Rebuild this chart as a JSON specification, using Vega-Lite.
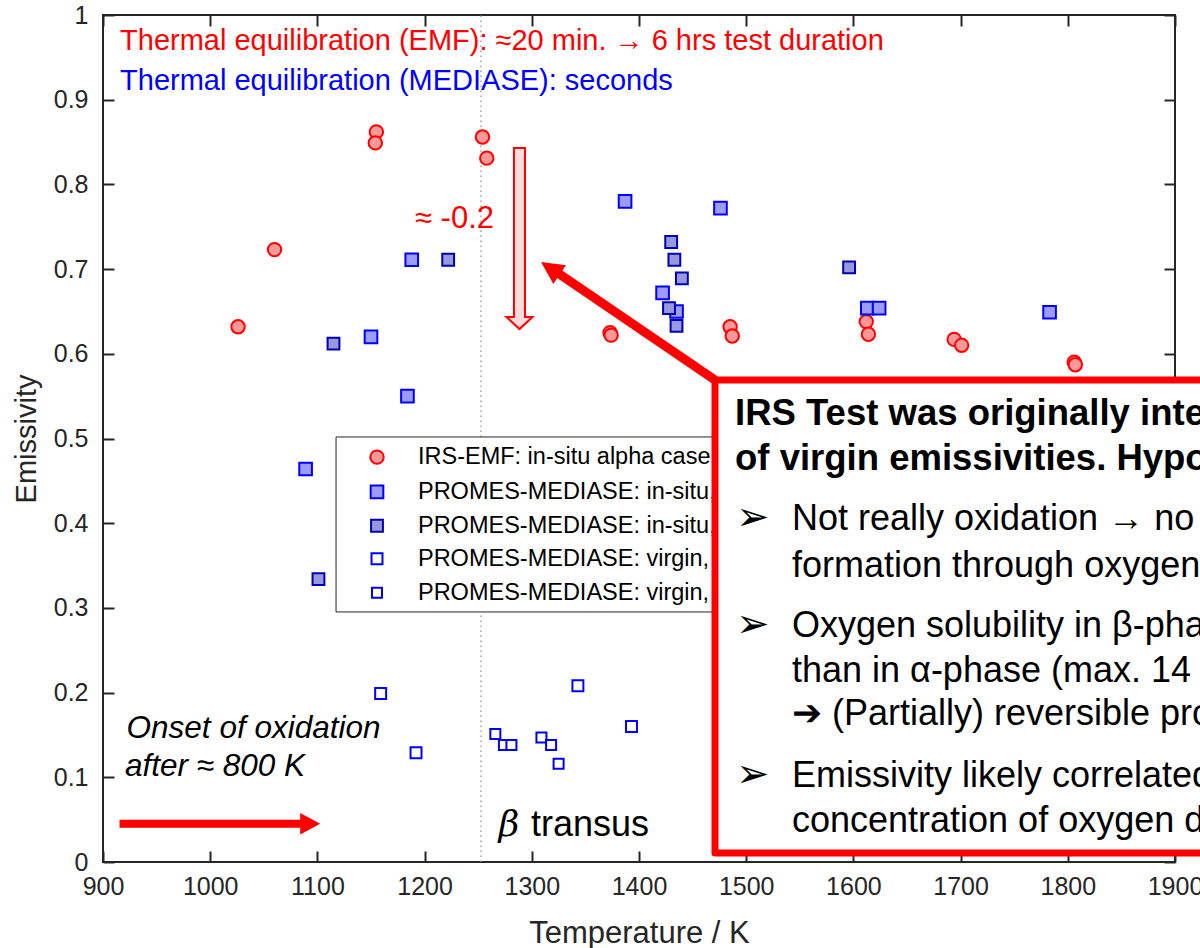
{
  "$schema": "https://vega.github.io/schema/vega-lite/v6.json",
  "autosize": {"type": "none"},
  "padding": {"left": 103, "top": 15, "right": 25, "bottom": 86},
  "width": 1072,
  "height": 847,
  "background": "white",
  "config": {
    "view": {"stroke": "#262626", "strokeWidth": 2},
    "font": "Liberation Sans",
    "axis": {"grid": false, "domain": false, "labelFlush": false, "labelOverlap": false, "tickColor": "#262626", "tickWidth": 2, "tickSize": -11, "labelFont": "Liberation Sans", "labelColor": "#262626", "labelFontSize": 25, "titleFont": "Liberation Sans", "titleFontWeight": "normal", "titleColor": "#262626", "titleFontSize": 29}
  },
  "resolve": {"axis": {"x": "independent", "y": "independent"}},
  "encoding": {
    "x": {"field": "T", "type": "quantitative", "scale": {"domain": [900, 1900], "nice": false, "zero": false}, "axis": null},
    "y": {"field": "E", "type": "quantitative", "scale": {"domain": [0, 1], "nice": false}, "axis": null}
  },
  "layer": [
    {
      "data": {"values": [{"T": 1252.6, "E": 0, "E2": 1}]},
      "mark": {"type": "rule", "color": "#8c8c8c", "strokeWidth": 1.2, "strokeDash": [1.5, 3.5]},
      "encoding": {
        "x": {"field": "T", "type": "quantitative", "axis": {"orient": "top", "values": [900, 1000, 1100, 1200, 1300, 1400, 1500, 1600, 1700, 1800, 1900], "labels": false, "title": null}},
        "y": {"field": "E", "type": "quantitative", "axis": {"orient": "right", "values": [0, 0.1, 0.2, 0.3, 0.4, 0.5, 0.6, 0.7, 0.8, 0.9, 1], "labels": false, "title": null}},
        "y2": {"field": "E2"}
      }
    },
    {
      "data": {"values": [
        {"T": 1026, "E": 0.632, "series": "emf"},
        {"T": 1060, "E": 0.723, "series": "emf"},
        {"T": 1155, "E": 0.862, "series": "emf"},
        {"T": 1154, "E": 0.849, "series": "emf"},
        {"T": 1254, "E": 0.856, "series": "emf"},
        {"T": 1258, "E": 0.831, "series": "emf"},
        {"T": 1373, "E": 0.625, "series": "emf"},
        {"T": 1374, "E": 0.622, "series": "emf"},
        {"T": 1485, "E": 0.632, "series": "emf"},
        {"T": 1487, "E": 0.621, "series": "emf"},
        {"T": 1612, "E": 0.638, "series": "emf"},
        {"T": 1614, "E": 0.623, "series": "emf"},
        {"T": 1694, "E": 0.617, "series": "emf"},
        {"T": 1701, "E": 0.610, "series": "emf"},
        {"T": 1806, "E": 0.590, "series": "emf"},
        {"T": 1807, "E": 0.587, "series": "emf"},
        {"T": 1150, "E": 0.620, "series": "in1"},
        {"T": 1184, "E": 0.550, "series": "in1"},
        {"T": 1089, "E": 0.464, "series": "in1"},
        {"T": 1188, "E": 0.711, "series": "in1"},
        {"T": 1387, "E": 0.780, "series": "in1"},
        {"T": 1476, "E": 0.772, "series": "in1"},
        {"T": 1422, "E": 0.672, "series": "in1"},
        {"T": 1435, "E": 0.650, "series": "in1"},
        {"T": 1613, "E": 0.654, "series": "in1"},
        {"T": 1624, "E": 0.654, "series": "in1"},
        {"T": 1783, "E": 0.649, "series": "in1"},
        {"T": 1115, "E": 0.612, "series": "in2"},
        {"T": 1101, "E": 0.334, "series": "in2"},
        {"T": 1222, "E": 0.711, "series": "in2"},
        {"T": 1430, "E": 0.732, "series": "in2"},
        {"T": 1433, "E": 0.711, "series": "in2"},
        {"T": 1440, "E": 0.689, "series": "in2"},
        {"T": 1428, "E": 0.654, "series": "in2"},
        {"T": 1435, "E": 0.633, "series": "in2"},
        {"T": 1596, "E": 0.702, "series": "in2"},
        {"T": 1159, "E": 0.199, "series": "v1"},
        {"T": 1192, "E": 0.129, "series": "v1"},
        {"T": 1343, "E": 0.208, "series": "v1"},
        {"T": 1393, "E": 0.160, "series": "v1"},
        {"T": 1266, "E": 0.151, "series": "v2"},
        {"T": 1274, "E": 0.138, "series": "v2"},
        {"T": 1281, "E": 0.138, "series": "v2"},
        {"T": 1309, "E": 0.147, "series": "v2"},
        {"T": 1318, "E": 0.138, "series": "v2"},
        {"T": 1325, "E": 0.116, "series": "v2"}
      ]},
      "mark": {"type": "point", "filled": true, "opacity": 1, "strokeWidth": 2, "size": 110},
      "encoding": {
        "x": {"field": "T", "type": "quantitative", "axis": {"orient": "bottom", "values": [900, 1000, 1100, 1200, 1300, 1400, 1500, 1600, 1700, 1800, 1900], "format": "d", "labelPadding": 23, "title": "Temperature / K", "titlePadding": 19, "titleFontSize": 31}},
        "y": {"field": "E", "type": "quantitative", "axis": {"orient": "left", "values": [0, 0.1, 0.2, 0.3, 0.4, 0.5, 0.6, 0.7, 0.8, 0.9, 1], "format": "~g", "labelPadding": 26, "title": "Emissivity", "titlePadding": 12}},
        "shape": {"field": "series", "type": "nominal", "scale": {"domain": ["emf", "in1", "in2", "v1", "v2"], "range": ["circle", "square", "square", "square", "square"]}, "legend": null},
        "fill": {"field": "series", "type": "nominal", "scale": {"domain": ["emf", "in1", "in2", "v1", "v2"], "range": ["#ff9999", "#9c9cff", "#9898dd", "#ffffff", "#ffffff"]}, "legend": null},
        "stroke": {"field": "series", "type": "nominal", "scale": {"domain": ["emf", "in1", "in2", "v1", "v2"], "range": ["#ff0000", "#0000ff", "#0000b4", "#0000ff", "#0000ee"]}, "legend": null},
        "size": {"field": "series", "type": "nominal", "scale": {"domain": ["emf", "in1", "in2", "v1", "v2"], "range": [180, 100, 100, 100, 100]}, "legend": null}
      }
    },
    {
      "data": {"values": [{"T": 1117.4, "T2": 1750, "E": 0.2952, "E2": 0.5018}]},
      "mark": {"type": "rect", "fill": "white", "stroke": "#262626", "strokeWidth": 1},
      "encoding": {"x2": {"field": "T2"}, "y2": {"field": "E2"}}
    },
    {
      "data": {"values": [
        {"T": 1155.6, "E": 0.478, "series": "emf"},
        {"T": 1155.6, "E": 0.437, "series": "in1"},
        {"T": 1155.6, "E": 0.397, "series": "in2"},
        {"T": 1155.6, "E": 0.358, "series": "v1"},
        {"T": 1155.6, "E": 0.318, "series": "v2"}
      ]},
      "mark": {"type": "point", "filled": true, "opacity": 1, "strokeWidth": 2},
      "encoding": {
        "shape": {"field": "series", "type": "nominal", "scale": {"domain": ["emf", "in1", "in2", "v1", "v2"], "range": ["circle", "square", "square", "square", "square"]}, "legend": null},
        "fill": {"field": "series", "type": "nominal", "scale": {"domain": ["emf", "in1", "in2", "v1", "v2"], "range": ["#ff9999", "#9c9cff", "#9898dd", "#ffffff", "#ffffff"]}, "legend": null},
        "stroke": {"field": "series", "type": "nominal", "scale": {"domain": ["emf", "in1", "in2", "v1", "v2"], "range": ["#ff0000", "#0000ff", "#0000b4", "#0000ff", "#0000ee"]}, "legend": null},
        "size": {"field": "series", "type": "nominal", "scale": {"domain": ["emf", "in1", "in2", "v1", "v2"], "range": [180, 100, 100, 100, 100]}, "legend": null}
      }
    },
    {
      "data": {"values": [
        {"T": 1193.8, "E": 0.478, "label": "IRS-EMF: in-situ alpha case formation"},
        {"T": 1193.8, "E": 0.437, "label": "PROMES-MEDIASE: in-situ, sample 1"},
        {"T": 1193.8, "E": 0.397, "label": "PROMES-MEDIASE: in-situ, sample 2"},
        {"T": 1193.8, "E": 0.358, "label": "PROMES-MEDIASE: virgin, sample 1"},
        {"T": 1193.8, "E": 0.318, "label": "PROMES-MEDIASE: virgin, sample 2"}
      ]},
      "mark": {"type": "text", "align": "left", "baseline": "middle", "fontSize": 23.5, "color": "#000000", "font": "Liberation Sans"},
      "encoding": {"text": {"field": "label"}}
    },
    {
      "data": {"values": [{"T": 915.9, "E": 0.9587, "label": "Thermal equilibration (EMF): ≈20 min. → 6 hrs test duration"}]},
      "mark": {"type": "text", "align": "left", "baseline": "alphabetic", "fontSize": 29, "color": "#ff0000", "font": "Liberation Sans"},
      "encoding": {"text": {"field": "label"}}
    },
    {
      "data": {"values": [{"T": 915.9, "E": 0.9115, "label": "Thermal equilibration (MEDIASE): seconds"}]},
      "mark": {"type": "text", "align": "left", "baseline": "alphabetic", "fontSize": 29, "color": "#0000ff", "font": "Liberation Sans"},
      "encoding": {"text": {"field": "label"}}
    },
    {
      "data": {"values": [{"T": 1191, "E": 0.7485, "label": "≈ -0.2"}]},
      "mark": {"type": "text", "align": "left", "baseline": "alphabetic", "fontSize": 31, "color": "#ff0000", "font": "Liberation Sans"},
      "encoding": {"text": {"field": "label"}}
    },
    {
      "data": {"values": [{"T": 1288.5, "E": 0.7361}]},
      "mark": {"type": "point", "filled": true, "opacity": 1, "shape": "M-0.061,-1 L0.061,-1 L0.061,0.867 L0.144,0.867 L0,1 L-0.144,0.867 L-0.061,0.867 Z", "size": 32761, "fill": "#ffdcdc", "stroke": "#ff0000", "strokeWidth": 2}
    },
    {
      "data": {"values": [
        {"T": 922, "E": 0.1468, "label": "Onset of oxidation"},
        {"T": 920.5, "E": 0.102, "label": "after ≈ 800 K"}
      ]},
      "mark": {"type": "text", "align": "left", "baseline": "alphabetic", "fontSize": 31.5, "fontStyle": "italic", "color": "#000000", "font": "Liberation Sans"},
      "encoding": {"text": {"field": "label"}}
    },
    {
      "data": {"values": [{"T": 1269, "E": 0.0306, "label": "β"}]},
      "mark": {"type": "text", "align": "left", "baseline": "alphabetic", "fontSize": 36, "fontStyle": "italic", "color": "#000000", "font": "DejaVu Serif"},
      "encoding": {"text": {"field": "label"}}
    },
    {
      "data": {"values": [{"T": 1299.3, "E": 0.0306, "label": "transus"}]},
      "mark": {"type": "text", "align": "left", "baseline": "alphabetic", "fontSize": 36, "color": "#000000", "font": "Liberation Sans"},
      "encoding": {"text": {"field": "label"}}
    },
    {
      "data": {"values": [{"T": 915.4, "T2": 1086, "E": 0.0452}]},
      "mark": {"type": "rule", "color": "#ff0000", "strokeWidth": 8},
      "encoding": {"x2": {"field": "T2"}}
    },
    {
      "data": {"values": [{"T": 1093.3, "E": 0.0452}]},
      "mark": {"type": "point", "filled": true, "opacity": 1, "shape": "M-1,-1.07 L1,0 L-1,1.07 Z", "size": 400, "fill": "#ff0000", "strokeWidth": 0}
    },
    {
      "data": {"values": [{"T": 1470.9, "T2": 2300, "E": 0.0106, "E2": 0.569}]},
      "mark": {"type": "rect", "fill": "white", "stroke": "#ff0000", "strokeWidth": 7, "strokeJoin": "round"},
      "encoding": {"x2": {"field": "T2"}, "y2": {"field": "E2"}}
    },
    {
      "data": {"values": [
        {"T": 1489.6, "E": 0.5159, "label": "IRS Test was originally intended for the measurement"},
        {"T": 1489.6, "E": 0.4628, "label": "of virgin emissivities. Hypothesis:"}
      ]},
      "mark": {"type": "text", "align": "left", "baseline": "alphabetic", "fontSize": 36.5, "fontWeight": "bold", "color": "#000000", "font": "Liberation Sans"},
      "encoding": {"text": {"field": "label"}}
    },
    {
      "data": {"values": [
        {"T": 1490.5, "E": 0.3920, "label": "➢"},
        {"T": 1490.5, "E": 0.2660, "label": "➢"},
        {"T": 1490.5, "E": 0.0889, "label": "➢"}
      ]},
      "mark": {"type": "text", "align": "left", "baseline": "alphabetic", "fontSize": 40, "color": "#000000", "font": "DejaVu Sans"},
      "encoding": {"text": {"field": "label"}}
    },
    {
      "data": {"values": [
        {"T": 1542.7, "E": 0.3920, "label": "Not really oxidation → no oxide layer"},
        {"T": 1542.7, "E": 0.3368, "label": "formation through oxygen diffusion"},
        {"T": 1542.7, "E": 0.2660, "label": "Oxygen solubility in β-phase lower"},
        {"T": 1542.7, "E": 0.2129, "label": "than in α-phase (max. 14 at.-%)"},
        {"T": 1542.7, "E": 0.1617, "label": "➔ (Partially) reversible process"},
        {"T": 1542.7, "E": 0.0889, "label": "Emissivity likely correlated with"},
        {"T": 1542.7, "E": 0.0357, "label": "concentration of oxygen dissolved"}
      ]},
      "mark": {"type": "text", "align": "left", "baseline": "alphabetic", "fontSize": 36, "color": "#000000", "font": "Liberation Sans"},
      "encoding": {"text": {"field": "label"}}
    },
    {
      "data": {"values": [{"T": 1470.9, "T2": 1321.6, "E": 0.569, "E2": 0.6978}]},
      "mark": {"type": "rule", "color": "#ff0000", "strokeWidth": 9},
      "encoding": {"x2": {"field": "T2"}, "y2": {"field": "E2"}}
    },
    {
      "data": {"values": [{"T": 1317.3, "E": 0.7010}]},
      "mark": {"type": "point", "filled": true, "opacity": 1, "shape": "M0,-1 L1,1 L-1,1 Z", "size": 506, "angle": 304.2, "fill": "#ff0000", "strokeWidth": 0}
    }
  ]
}
